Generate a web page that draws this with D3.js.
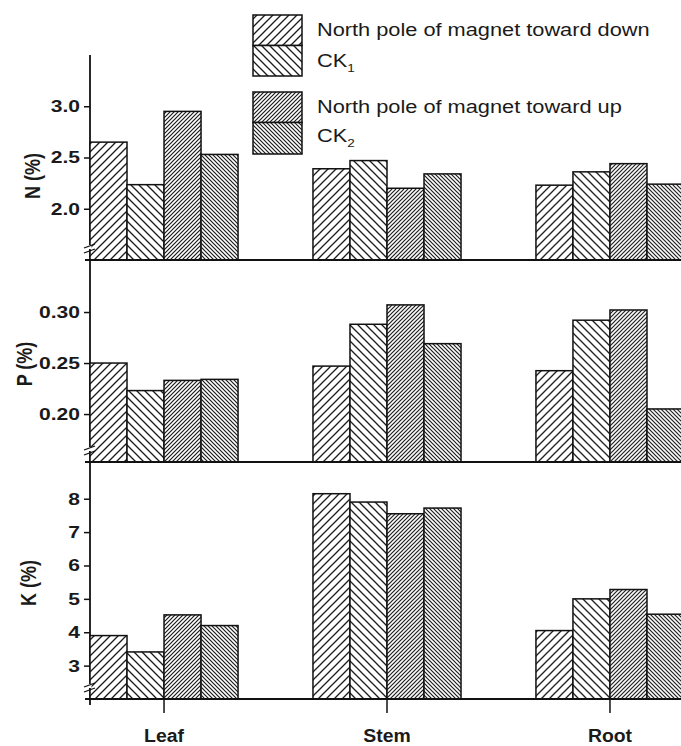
<!DOCTYPE html>
<html>
<head>
<meta charset="utf-8">
<script src="https://cdn.jsdelivr.net/npm/d3@7"></script>
<style>
  body { margin: 0; background: #fff; }
  text { font-family: "Liberation Sans", Arial, Helvetica, sans-serif; fill: #1a1a1a; }
</style>
</head>
<body>
<div id="chart"></div>
<script>
// organs on the x axis, four treatments per organ
const organs = ["Leaf", "Stem", "Root"];
const treatments = ["down", "ck1", "up", "ck2"];
const legendLabels = ["North pole of magnet toward down", "CK", "North pole of magnet toward up", "CK"];
const legendSubs = ["", "1", "", "2"];

// values per organ, in the order of treatments
const nPercent = [[2.65, 2.235, 2.95, 2.53], [2.39, 2.47, 2.20, 2.34], [2.23, 2.36, 2.44, 2.24]];
const pPercent = [[0.250, 0.223, 0.233, 0.234], [0.247, 0.288, 0.307, 0.269], [0.2425, 0.292, 0.302, 0.205]];
const kPercent = [[3.90, 3.41, 4.52, 4.20], [8.15, 7.90, 7.55, 7.72], [4.05, 5.00, 5.28, 4.54]];

const nTicks = [2.0, 2.5, 3.0];
const pTicks = [0.20, 0.25, 0.30];
const kTicks = [3, 4, 5, 6, 7, 8];

const width = 681, height = 746;
const axisX = 90;
const stretch = 1.24; // the scanned figure is a bit wider than tall

const svg = d3.select("#chart").append("svg")
  .attr("width", width)
  .attr("height", height);

svg.append("rect").attr("width", width).attr("height", height).attr("fill", "#fff");

// hatch patterns, drawn as diagonals in a square tile (no rotation, less aliasing)
const defs = svg.append("defs");
function hatch(id, up, s, sw) {
  const p = defs.append("pattern")
    .attr("id", id)
    .attr("patternUnits", "userSpaceOnUse")
    .attr("width", s).attr("height", s);
  p.append("rect").attr("width", s).attr("height", s).attr("fill", "#fff");
  const q = s / 4;
  const d = up
    ? `M0,${s}L${s},0M${-q},${q}L${q},${-q}M${3 * q},${5 * q}L${5 * q},${3 * q}`
    : `M0,0L${s},${s}M${-q},${3 * q}L${q},${5 * q}M${3 * q},${-q}L${5 * q},${q}`;
  p.append("path").attr("d", d)
    .attr("stroke", "#1a1a1a").attr("stroke-width", sw).attr("fill", "none");
}
hatch("h-down", true, 8, 1.3);
hatch("h-ck1", false, 8, 1.3);
hatch("h-up", true, 4, 1.2);
hatch("h-ck2", false, 4, 1.2);
const fillOf = d => "url(#h-" + d + ")";

// x scales
const x0 = d3.scaleBand().domain(organs).range([axisX, 684]).paddingInner(0.336).paddingOuter(0);
const x1 = d3.scaleBand().domain(treatments).range([0, x0.bandwidth()]);

// the three stacked panels
const panels = [
  { title: "N (%)", values: nPercent, ticks: nTicks, fmt: ".1f", domain: [1.5, 3.5], range: [260, 55], tx: 32, ty: 176 },
  { title: "P (%)", values: pPercent, ticks: pTicks, fmt: ".2f", domain: [0.153, 0.351], range: [462, 260], tx: 24, ty: 364 },
  { title: "K (%)", values: kPercent, ticks: kTicks, fmt: "d", domain: [2, 9.1], range: [699, 462], tx: 28, ty: 583 }
];

// y axis line, drawn first so the break marks can cut it
svg.append("line")
  .attr("x1", axisX).attr("x2", axisX)
  .attr("y1", 55).attr("y2", 705)
  .attr("stroke", "#111").attr("stroke-width", 1.8);

panels.forEach(function(pn) {
  const y = d3.scaleLinear().domain(pn.domain).range(pn.range);
  const base = pn.range[0];

  const groups = svg.append("g").selectAll("g").data(organs).enter().append("g")
    .attr("transform", d => "translate(" + x0(d) + ",0)");

  groups.selectAll("rect")
    .data((d, i) => treatments.map((t, j) => ({ t: t, v: pn.values[i][j] })))
    .enter().append("rect")
    .attr("x", d => x1(d.t))
    .attr("width", x1.bandwidth())
    .attr("y", d => y(d.v))
    .attr("height", d => base - y(d.v))
    .attr("fill", d => fillOf(d.t))
    .attr("stroke", "#111")
    .attr("stroke-width", 1.5);

  // baseline across the panel
  svg.append("line")
    .attr("x1", axisX - 5).attr("x2", width)
    .attr("y1", base).attr("y2", base)
    .attr("stroke", "#111").attr("stroke-width", 1.8);

  // y axis ticks and labels
  const ax = svg.append("g")
    .attr("transform", "translate(" + axisX + ",0)")
    .call(d3.axisLeft(y).tickValues(pn.ticks).tickFormat(d3.format(pn.fmt)).tickSize(6).tickSizeOuter(0));
  ax.select(".domain").remove();
  ax.selectAll(".tick line").attr("stroke", "#111").attr("stroke-width", 1.5);
  ax.selectAll(".tick text")
    .attr("x", -10 / stretch)
    .attr("transform", "scale(" + stretch + ",1)")
    .style("font-size", "17px")
    .style("font-weight", "bold")
    .attr("fill", "#1a1a1a");

  // axis break near the bottom
  const bk = base - 14;
  svg.append("rect").attr("x", axisX - 1.5).attr("y", bk - 1).attr("width", 3).attr("height", 4).attr("fill", "#fff");
  [0, 5].forEach(function(o) {
    svg.append("line")
      .attr("x1", axisX - 6).attr("y1", bk + o + 2)
      .attr("x2", axisX + 5).attr("y2", bk + o - 2)
      .attr("stroke", "#111").attr("stroke-width", 1.3);
  });

  // y title
  svg.append("text")
    .attr("transform", "translate(" + pn.tx + "," + pn.ty + ") rotate(-90) scale(1,1.2)")
    .attr("text-anchor", "middle")
    .attr("dy", "0.35em")
    .style("font-size", "18px")
    .style("font-weight", "bold")
    .text(pn.title);
});

// x axis ticks and organ labels
const xa = svg.append("g")
  .attr("transform", "translate(0,699)")
  .call(d3.axisBottom(x0).tickSize(14).tickSizeOuter(0));
xa.select(".domain").remove();
xa.selectAll(".tick line").attr("stroke", "#111").attr("stroke-width", 1.5);
xa.selectAll(".tick text")
  .attr("y", 0).attr("dy", "43px")
  .attr("transform", "scale(1.05,1)")
  .style("font-size", "18.5px")
  .style("font-weight", "bold")
  .attr("fill", "#1a1a1a");

// legend
const legendRows = [36, 67, 113, 142];
const legendBoxes = [{ y: 15, h: 30.5 }, { y: 45.5, h: 30.5 }, { y: 92, h: 30.5 }, { y: 122.5, h: 31.5 }];
const lg = svg.append("g");
lg.selectAll("rect").data(treatments).enter().append("rect")
  .attr("x", 253).attr("width", 49)
  .attr("y", (d, i) => legendBoxes[i].y)
  .attr("height", (d, i) => legendBoxes[i].h)
  .attr("fill", d => fillOf(d))
  .attr("stroke", "#111").attr("stroke-width", 1.5);

const lt = lg.selectAll("text").data(treatments).enter().append("text")
  .attr("transform", (d, i) => "translate(317," + legendRows[i] + ") scale(1.23,1)")
  .style("font-size", "17.7px");
lt.append("tspan").text((d, i) => legendLabels[i]);
lt.append("tspan")
  .attr("dy", "5")
  .style("font-size", "11px")
  .text((d, i) => legendSubs[i]);
</script>
</body>
</html>
